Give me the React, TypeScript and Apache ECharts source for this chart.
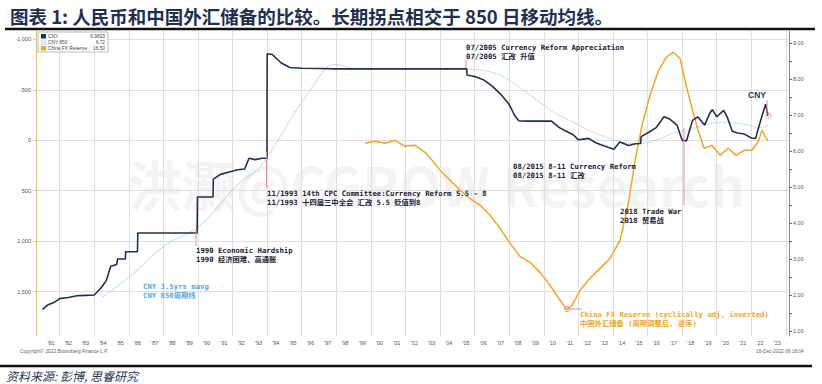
import React, { useEffect, useRef } from "react";
import * as echarts from "echarts";

// x labels (mid-year)
const yearLabels = ["'81","'82","'83","'84","'85","'86","'87","'88","'89","'90","'91","'92","'93","'94","'95","'96","'97","'98","'99","'00","'01","'02","'03","'04","'05","'06","'07","'08","'09","'10","'11","'12","'13","'14","'15","'16","'17","'18","'19","'20","'21","'22","'23"];
const leftTicks = [-1000, -500, 0, 500, 1000, 1500];
const rightTicks = [1, 2, 3, 4, 5, 6, 7, 8, 9];

// USD/CNY
const cnyDates = [1981.0,1981.3,1981.7,1982.0,1982.5,1983.0,1983.5,1984.0,1984.4,1984.7,1984.95,1985.3,1985.35,1985.8,1985.82,1986.5,1986.52,1987.5,1988.5,1989.5,1989.95,1989.97,1990.5,1990.87,1990.89,1991.3,1991.9,1992.3,1992.7,1992.95,1993.3,1993.7,1993.99,1994.0,1994.3,1994.8,1995.3,1996.0,1997.0,1998.0,1999.0,2000.0,2001.0,2002.0,2003.0,2004.0,2005.0,2005.54,2005.56,2006.0,2006.5,2007.0,2007.5,2008.0,2008.3,2008.55,2009.0,2009.5,2010.0,2010.45,2010.9,2011.3,2011.7,2012.0,2012.3,2012.6,2013.0,2013.5,2014.05,2014.4,2014.9,2015.3,2015.6,2015.63,2016.0,2016.5,2016.95,2017.3,2017.7,2018.0,2018.25,2018.6,2018.9,2019.3,2019.6,2019.75,2020.0,2020.4,2020.6,2020.9,2021.2,2021.6,2022.0,2022.25,2022.45,2022.7,2022.83,2022.96];
const cnyValues = [1.6,1.72,1.8,1.9,1.93,1.98,1.99,2.0,2.2,2.4,2.8,2.85,3.0,3.0,3.2,3.2,3.72,3.72,3.72,3.72,3.72,4.72,4.72,4.72,5.22,5.35,5.43,5.48,5.5,5.8,5.76,5.8,5.8,8.7,8.68,8.45,8.32,8.3,8.29,8.28,8.28,8.28,8.28,8.28,8.28,8.28,8.28,8.28,8.11,8.07,7.98,7.81,7.58,7.29,7.0,6.84,6.83,6.83,6.83,6.83,6.65,6.55,6.45,6.31,6.33,6.35,6.23,6.14,6.05,6.25,6.15,6.2,6.21,6.4,6.5,6.65,6.95,6.88,6.72,6.3,6.28,6.85,6.95,6.72,7.05,7.15,6.95,7.13,6.95,6.55,6.5,6.47,6.36,6.35,6.7,7.1,7.3,6.98];

// CNY 850-day moving average
const cny850Dates = [1984.5,1985.5,1986.5,1987.5,1988.5,1989.5,1990.5,1991.5,1992.5,1993.5,1994.5,1995.5,1996.5,1997.5,1998.0,1999.0,2001.0,2003.0,2005.5,2006.5,2007.5,2008.5,2009.5,2010.5,2011.5,2012.5,2013.5,2014.5,2015.5,2016.5,2017.5,2018.5,2019.5,2020.5,2021.5,2022.5,2022.96];
const cny850Values = [1.95,2.3,2.7,3.15,3.5,3.72,4.1,4.65,5.15,5.5,6.2,7.0,7.7,8.35,8.4,8.29,8.28,8.28,8.28,8.24,8.1,7.8,7.45,7.1,6.85,6.6,6.4,6.25,6.2,6.3,6.5,6.6,6.75,6.8,6.75,6.65,6.72];

// China FX reserve (cyclically adjusted, inverted)
const fxDates = [1999.66,2000.24,2000.82,2001.4,2001.97,2002.55,2003.13,2003.54,2004.0,2004.58,2005.16,2005.73,2006.31,2006.89,2007.47,2008.05,2008.63,2009.2,2009.78,2010.36,2010.94,2011.34,2011.63,2012.1,2012.67,2013.25,2013.83,2014.41,2014.87,2015.28,2015.68,2016.14,2016.6,2017.07,2017.47,2017.88,2018.23,2018.57,2018.92,2019.27,2019.73,2020.19,2020.66,2021.12,2021.58,2022.04,2022.39,2022.62,2022.85,2022.96];
const fxValues = [30,10,30,0,60,50,119,198,298,397,496,575,645,744,873,1022,1151,1210,1310,1438,1587,1677,1637,1488,1369,1270,1171,992,645,198,-149,-446,-675,-823,-873,-813,-546,-317,-99,79,50,149,79,149,99,99,20,-99,-20,0];

const zip = (a: number[], b: number[]) => a.map((d, i) => [d, b[i]]);

const mono = "'DejaVu Sans Mono', 'Noto Sans CJK SC', monospace";

export default function App() {
  const ref = useRef<HTMLDivElement>(null);
  useEffect(() => {
    if (!ref.current) return;
    const chart = echarts.init(ref.current, null, { renderer: "svg" });
    const txt = (x: number, y: number, text: string, fill: string, extra: any = {}) => ({
      type: "text", x, y, silent: true, z: 30,
      style: { text, fill, font: `bold 7.3px ${mono}`, textVerticalAlign: "middle", ...extra },
    });
    const ln = (x1: number, y1: number, x2: number, y2: number, stroke = "#e58a9a", w = 1) => ({
      type: "line", silent: true, z: 30, shape: { x1, y1, x2, y2 }, style: { stroke, lineWidth: w },
    });
    chart.setOption({
      animation: false,
      backgroundColor: "#ffffff",
      title: {
        text: "图表 1: 人民币和中国外汇储备的比较。长期拐点相交于 850 日移动均线。",
        left: 5, top: 2,
        textStyle: { fontSize: 18.5, fontWeight: "bold", color: "#1f2f4f", fontFamily: "'Noto Sans CJK SC'" },
      },
      grid: { left: 36, right: 33, top: 31, bottom: 48, containLabel: false },
      xAxis: {
        type: "value", min: 1980.632, max: 2024.18,
        axisLine: { show: false },
        axisTick: { show: false, customValues: [1982,1984,1986,1988,1990,1992,1994,1996,1998,2000,2002,2004,2006,2008,2010,2012,2014,2016,2018,2020,2022,2024] },
        splitLine: { show: true, lineStyle: { color: "#dedede", width: 1 } },
        axisLabel: {
          customValues: yearLabels.map((_, i) => 1981.5 + i),
          formatter: (v: number) => yearLabels[Math.round(v - 1981.5)],
          fontSize: 5.5, color: "#555", margin: 4, fontFamily: "'Liberation Sans'",
        },
      },
      yAxis: [
        {
          type: "value", inverse: true, min: -1084, max: 1941, position: "left",
          axisLine: { show: true, lineStyle: { color: "#e8c56a", width: 1.2 } },
          axisTick: { show: true, customValues: leftTicks, length: 3, lineStyle: { color: "#e8c56a" } },
          splitLine: { show: true, lineStyle: { color: "#dedede", width: 1 } },
          axisLabel: { customValues: leftTicks, fontSize: 5.5, color: "#555", margin: 5, fontFamily: "'Liberation Sans'" },
        },
        {
          type: "value", min: 0.861, max: 9.333, position: "right",
          axisLine: { show: true, lineStyle: { color: "#888", width: 1 } },
          axisTick: { show: true, customValues: [1,1.5,2,2.5,3,3.5,4,4.5,5,5.5,6,6.5,7,7.5,8,8.5,9], length: 3, lineStyle: { color: "#666" } },
          splitLine: { show: false },
          axisLabel: { customValues: rightTicks, formatter: (v: number) => v.toFixed(2), fontSize: 5.5, color: "#555", margin: 4, fontFamily: "'Liberation Sans'" },
        },
      ],
      series: [
        {
          name: "China FX Reserve", type: "line", yAxisIndex: 0, data: zip(fxDates, fxValues),
          symbol: "none", lineStyle: { color: "#f3a524", width: 1.5 }, z: 3,
        },
        {
          name: "CNY 850", type: "line", yAxisIndex: 1, data: zip(cny850Dates, cny850Values),
          symbol: "none", smooth: 0.3, lineStyle: { color: "#9cc4e4", width: 1.1, type: "dotted" }, z: 4,
        },
        {
          name: "CNY", type: "line", yAxisIndex: 1, data: zip(cnyDates, cnyValues),
          symbol: "none", lineStyle: { color: "#232f4b", width: 1.6 }, z: 5,
        },
      ],
      graphic: [
        // watermark
        { type: "text", x: 128, y: 183, silent: true, z: -10,
          style: { text: "洪灏@CGROW Research", fill: "rgba(200,200,200,0.22)", font: "bold 54px 'Noto Sans CJK SC'", textVerticalAlign: "middle" } },
        // frame lines
        ln(5, 29, 815, 29, "#111", 2.5),
        ln(0, 366, 812, 366, "#111", 2.5),
        { type: "text", x: 6, y: 375.5, silent: true,
          style: { text: "资料来源: 彭博, 思睿研究", fill: "#2a3650", font: "italic 12px 'Noto Sans CJK SC'", textVerticalAlign: "middle" } },
        { type: "text", x: 20, y: 351, silent: true, style: { text: "Copyright© 2022 Bloomberg Finance L.P.", fill: "#666", font: "4.8px 'Liberation Sans'", textVerticalAlign: "middle" } },
        { type: "text", x: 756, y: 351, silent: true, style: { text: "18-Dec-2022 09:18:04", fill: "#666", font: "4.8px 'Liberation Sans'", textVerticalAlign: "middle" } },
        // legend box
        { type: "rect", shape: { x: 38, y: 32, width: 70, height: 20 }, style: { fill: "#fff", stroke: "#aaa", lineWidth: 0.8 }, z: 10 },
        { type: "rect", shape: { x: 41, y: 34, width: 5, height: 4.5 }, style: { fill: "#232f4b" }, z: 11 },
        { type: "rect", shape: { x: 41, y: 40, width: 5, height: 4.5 }, style: { fill: "#e6eff8", stroke: "#b5c8dc", lineWidth: 0.5 }, z: 11 },
        { type: "rect", shape: { x: 41, y: 46, width: 5, height: 4.5 }, style: { fill: "#f3a524" }, z: 11 },
        { type: "text", x: 48, y: 36.3, z: 11, style: { text: "CNY", fill: "#444", font: "4.8px 'Liberation Sans'", textVerticalAlign: "middle" } },
        { type: "text", x: 48, y: 42.3, z: 11, style: { text: "CNY 850", fill: "#444", font: "4.8px 'Liberation Sans'", textVerticalAlign: "middle" } },
        { type: "text", x: 48, y: 48.3, z: 11, style: { text: "China FX Reserve", fill: "#444", font: "4.8px 'Liberation Sans'", textVerticalAlign: "middle" } },
        { type: "text", x: 105, y: 36.3, z: 11, style: { text: "6.9823", fill: "#444", font: "4.8px 'Liberation Sans'", textAlign: "right", textVerticalAlign: "middle" } },
        { type: "text", x: 105, y: 42.3, z: 11, style: { text: "6.72", fill: "#444", font: "4.8px 'Liberation Sans'", textAlign: "right", textVerticalAlign: "middle" } },
        { type: "text", x: 105, y: 48.3, z: 11, style: { text: "16.50", fill: "#444", font: "4.8px 'Liberation Sans'", textAlign: "right", textVerticalAlign: "middle" } },
        // annotations
        ln(466, 60, 466, 68),
        txt(466, 47, "07/2005 Currency Reform Appreciation", "#1c2233"),
        txt(466, 56, "07/2005 汇改 升值", "#1c2233"),
        ln(266.5, 152, 266.5, 188),
        txt(267, 193, "11/1993 14th CPC Committee:Currency Reform 5.5 - 8", "#1c2233"),
        txt(267, 202, "11/1993 十四届三中全会 汇改 5.5 贬值到8", "#1c2233"),
        ln(196, 230, 196, 246),
        txt(196, 250, "1990 Economic Hardship", "#1c2233"),
        txt(196, 259, "1990 经济困难、高通胀", "#1c2233"),
        txt(513, 166, "08/2015 8-11 Currency Reform", "#1c2233"),
        txt(513, 175, "08/2015 8-11 汇改", "#1c2233"),
        ln(684, 128, 684, 205),
        txt(620, 211, "2018 Trade War", "#1c2233"),
        txt(620, 220, "2018 贸易战", "#1c2233"),
        txt(143, 286, "CNY 3.5yrs mavg", "#5aa6df"),
        txt(143, 295, "CNY 850周期线", "#5aa6df"),
        ln(569, 309, 582, 309),
        { type: "circle", shape: { cx: 567, cy: 309, r: 2.5 }, style: { fill: "none", stroke: "#e58a9a", lineWidth: 1 }, z: 20 },
        txt(580, 314, "China FX Reserve (cyclically adj, inverted)", "#f3a524"),
        txt(580, 323, "中国外汇储备 (周期调整后, 逆序)", "#f3a524"),
        { type: "text", x: 757, y: 95, silent: true, z: 30, style: { text: "CNY", fill: "#2b3550", font: "bold 8.5px 'Liberation Sans'", textAlign: "center", textVerticalAlign: "middle" } },
        ln(767, 100, 767, 112),
        { type: "circle", shape: { cx: 768.5, cy: 115.5, r: 2.5 }, style: { fill: "none", stroke: "#e58a9a", lineWidth: 1 }, z: 20 },
      ],
    });
    return () => chart.dispose();
  }, []);
  return <div ref={ref} style={{ position: "absolute", left: 0, top: 0, width: 822, height: 384 }} />;
}
